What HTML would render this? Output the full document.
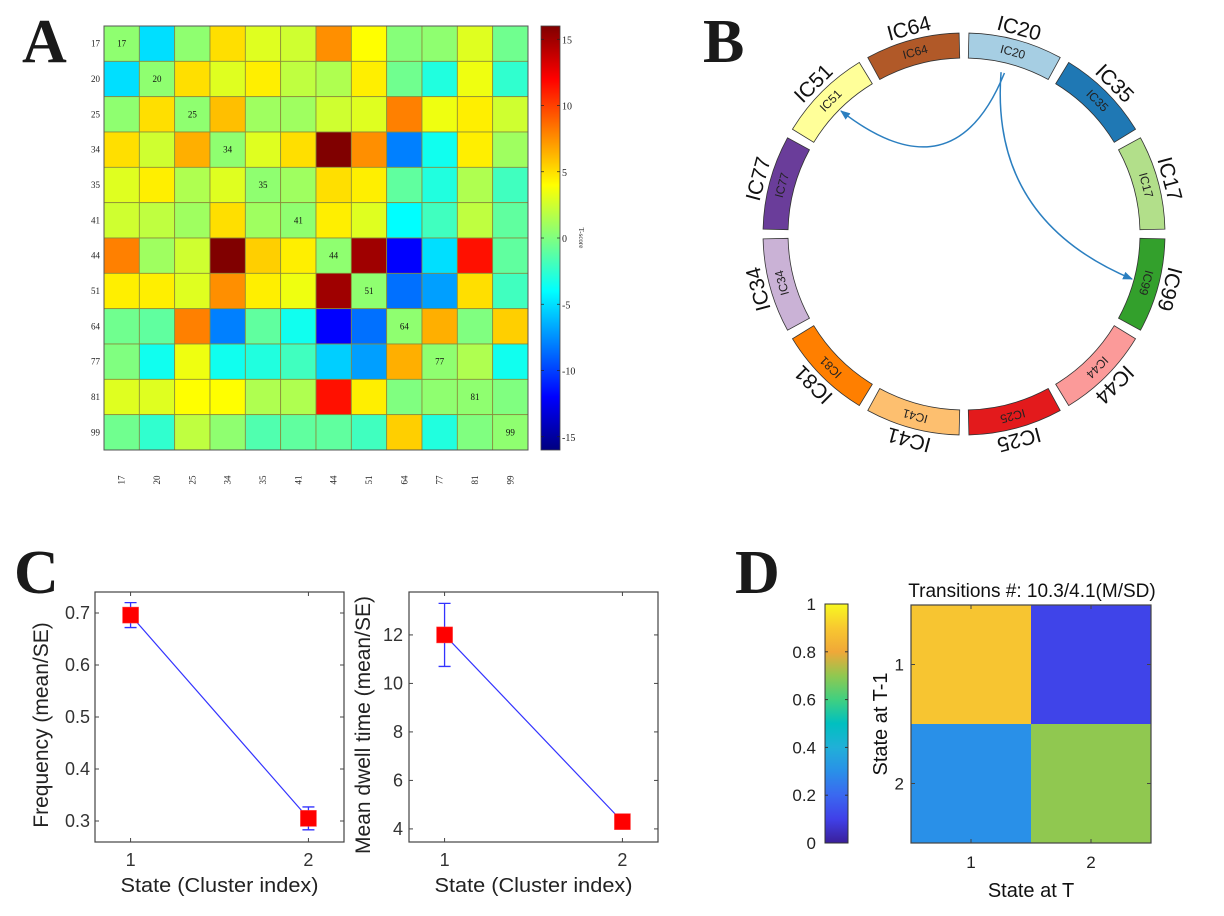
<!DOCTYPE html>
<html><head><meta charset="utf-8">
<style>
html,body{margin:0;padding:0;background:#fff;}
svg{display:block;}
text{font-family:"Liberation Sans",sans-serif;}
.serif{font-family:"Liberation Serif",serif;}
</style></head>
<body>
<svg id="fig" width="1224" height="916" viewBox="0 0 1224 916" xmlns="http://www.w3.org/2000/svg">
<rect width="1224" height="916" fill="#fff"/>
<text class="serif" x="22" y="62" font-size="62" font-weight="bold" fill="#1a1a1a">A</text>
<text class="serif" x="703" y="62" font-size="62" font-weight="bold" fill="#1a1a1a">B</text>
<text class="serif" x="14" y="593" font-size="62" font-weight="bold" fill="#1a1a1a">C</text>
<text class="serif" x="735" y="593" font-size="62" font-weight="bold" fill="#1a1a1a">D</text>
<g id="pa"></g>
<g id="pb"></g>
<g id="pc1"></g>
<g id="pc2"></g>
<g id="pd"></g>
</svg>
<script>
// ---------- Panel A data ----------
const icLabels = ["17","20","25","34","35","41","44","51","64","77","81","99"];
const row17 = [0.5,-5,0.5,5,3,2.5,7.5,4,0.2,0.5,3,-0.5];
const row20 = [-5,0.5,5,3,4.5,2,1.5,4.5,-0.5,-3,3.5,-2.5];
const row25 = [0.5,5,0.5,6,1,1,2.5,3,8,3.5,4.5,2.5];
const row34 = [5,2.5,6.5,0.5,3,5,16,7.5,-8,-3.5,4.5,1];
const row35 = [3,4.5,1.5,3,0.5,1,5,4.5,-1,-3,1.5,-2];
const row41 = [2.5,2,1,5,1,0.5,4.5,3,-4,-2,2,-1];
const row44 = [8,1,2.5,16,5.5,4.5,0.5,15,-12,-5,11.5,-1];
const row51 = [4.5,4.5,3,7.5,4.5,3.5,15,0.5,-8.5,-7,5,-2];
const row64 = [-0.5,-1,8,-8,-1,-3.5,-12,-8.5,0.5,6.5,0,5.5];
const row77 = [0,-3.5,3.5,-3.5,-3,-2,-5.5,-7,6.5,0.5,1.5,-3.5];
const row81 = [3,3,4,4,1.5,1.5,11.5,4.5,0,0.5,0.5,0];
const row99 = [-0.5,-2.5,2,0.5,-1.5,-1,-1,-2,5.5,-3,0,0.5];
const tRows = [row17,row20,row25,row34,row35,row41,row44,row51,row64,row77,row81,row99];
const cbTicks = [15,10,5,0,-5,-10,-15];

// ---------- Panel B data ----------
const chordNames = ["IC20","IC35","IC17","IC99","IC44","IC25","IC41","IC81","IC34","IC77","IC51","IC64"];
const chordColors = ["#a6cee3","#1f78b4","#b2df8a","#33a02c","#fb9a99","#e31a1c","#fdbf6f","#ff7f00","#cab2d6","#6a3d9a","#ffff99","#b15928"];
const linkSources = ["IC20","IC20"];
const linkTargets = ["IC51","IC99"];

// ---------- Panel C data ----------
const states = [1,2];
const freqMean = [0.696,0.305];
const freqSE = [0.024,0.022];
const freqTicks = [0.3,0.4,0.5,0.6,0.7];
const dwellMean = [12.0,4.3];
const dwellSE = [1.3,0.3];
const dwellTicks = [4,6,8,10,12];

// ---------- Panel D data ----------
const transRow1 = [0.89,0.11];
const transRow2 = [0.30,0.70];
const transRows = [transRow1,transRow2];
const parTicks = [0,0.2,0.4,0.6,0.8,1];

const NS="http://www.w3.org/2000/svg";
function mk(tag,attrs,parent,txt){const e=document.createElementNS(NS,tag);for(const k in attrs)e.setAttribute(k,attrs[k]);if(txt!==undefined)e.textContent=txt;parent.appendChild(e);return e;}

function jet(v){let t=(v+16)/32;t=Math.max(0,Math.min(1,t));
 const c=x=>Math.round(255*Math.max(0,Math.min(1,x)));
 const r=c(1.5-Math.abs(4*t-3)),g=c(1.5-Math.abs(4*t-2)),b=c(1.5-Math.abs(4*t-1));
 return `rgb(${r},${g},${b})`;}

// ---- Panel A ----
(function(){
 const g=document.getElementById('pa');
 const x0=104,y0=26,W=424,n=icLabels.length,cs=W/n;
 const xs=i=>x0+i*cs, ys=i=>y0+i*cs;
 tRows.forEach((row,i)=>row.forEach((v,j)=>{
  const r=mk('rect',{x:xs(j),y:ys(i),width:cs,height:cs,fill:jet(v),stroke:'#8a8a3a','stroke-width':0.8},g);
  
  
  if(i===j){const t=mk('text',{x:xs(j)+cs/2,y:ys(i)+cs/2+3,'font-size':9,'text-anchor':'middle',class:'serif',fill:'#111'},g,icLabels[i]);
   
   }
 }));
 mk('rect',{x:x0,y:y0,width:W,height:W,fill:'none',stroke:'#555','stroke-width':1},g);
 icLabels.forEach((l,i)=>{
  const t=mk('text',{x:100,y:ys(i)+cs/2+3,'font-size':9,'text-anchor':'end',class:'serif',fill:'#222'},g,l);
  
  
  const cx=xs(i)+cs/2;
  const t2=mk('text',{x:cx,y:480,'font-size':9,'text-anchor':'middle',class:'serif',fill:'#222',transform:`rotate(-90 ${cx} 480)`,dy:3},g,l);
  
  
 });
 const cbx=541,cbw=19,cby=26,cbh=424;
 const defs=mk('defs',{},g);
 const lg=mk('linearGradient',{id:'jetg',x1:0,y1:1,x2:0,y2:0},defs);
 for(let k=0;k<=32;k++){mk('stop',{offset:k/32,'stop-color':jet(-16+k)},lg);}
 const cb=mk('rect',{x:cbx,y:cby,width:cbw,height:cbh,fill:'url(#jetg)',stroke:'#444','stroke-width':0.8},g);
 
 
 const cy=v=>cby+cbh*(16-v)/32;
 cbTicks.forEach(v=>{
  mk('line',{x1:cbx,x2:cbx+3,y1:cy(v),y2:cy(v),stroke:'#222','stroke-width':0.7},g);
  mk('line',{x1:cbx+cbw-3,x2:cbx+cbw,y1:cy(v),y2:cy(v),stroke:'#222','stroke-width':0.7},g);
  const t=mk('text',{x:cbx+cbw+2,y:cy(v)+4,'font-size':10,class:'serif',fill:'#222'},g,String(v));
  
  
 });
 const tl=mk('text',{x:579,y:238,'font-size':7,'text-anchor':'middle',class:'serif',fill:'#333',transform:'rotate(90 579 238)'},g,'T-score');
 
 
})();

// ---- Panel B ----
(function(){
 const g=document.getElementById('pb');
 const cx=964,cy=234,rIn=176,rOut=201,n=chordNames.length,step=360/n,gap=1.4;
 const pt=(a,r)=>{const t=(a-90)*Math.PI/180;return [cx+r*Math.cos(t),cy+r*Math.sin(t)];};
 chordNames.forEach((nm,i)=>{
  const a0=i*step+gap,a1=(i+1)*step-gap,mid=i*step+step/2;
  const p1=pt(a0,rOut),p2=pt(a1,rOut),p3=pt(a1,rIn),p4=pt(a0,rIn);
  const d=`M${p1}A${rOut},${rOut} 0 0 1 ${p2}L${p3}A${rIn},${rIn} 0 0 0 ${p4}Z`;
  const s=mk('path',{d:d,fill:chordColors[i],stroke:'#333','stroke-width':0.8},g);
  
  
  const ti=mk('text',{x:cx,y:cy-(rIn+rOut)/2+4,'font-size':12,'text-anchor':'middle',fill:'#222',transform:`rotate(${mid} ${cx} ${cy})`},g,nm);
  
  
  const to=mk('text',{x:cx,y:cy-rOut-5,'font-size':21,'text-anchor':'middle',fill:'#111',transform:`rotate(${mid} ${cx} ${cy})`},g,nm);
  
  
 });
 const defs=mk('defs',{},g);
 const m=mk('marker',{id:'arr',viewBox:'0 0 10 10',refX:9,refY:5,markerWidth:10,markerHeight:10,orient:'auto',markerUnits:'userSpaceOnUse'},defs);
 mk('path',{d:'M0,1L10,5L0,9Z',fill:'#2b7fc0'},m);
 linkSources.forEach((src,k)=>{
  const si=chordNames.indexOf(src),ti=chordNames.indexOf(linkTargets[k]);
  const sa=si*step+step*(k===0?0.47:0.43), ta=ti*step+step/2;
  const s=pt(sa,rIn-10),t=pt(ta,rIn-2);
  const c=[(s[0]+t[0])/2*0.25+cx*0.75,(s[1]+t[1])/2*0.25+cy*0.75];
  const p=mk('path',{d:`M${s}Q${c} ${t}`,fill:'none',stroke:'#2b7fc0','stroke-width':1.5,'marker-end':'url(#arr)'},g);
  
  
 });
})();

// ---- Panel C ----
function lineChart(id,box,xlim,ylim,means,ses,ticks,fmt,ylab,ylabX,tickRight){
 const g=document.getElementById(id);
 const [L,T,R,B]=box;
 const xs=v=>L+(v-xlim[0])/(xlim[1]-xlim[0])*(R-L);
 const ys=v=>B-(v-ylim[0])/(ylim[1]-ylim[0])*(B-T);
 mk('rect',{x:L,y:T,width:R-L,height:B-T,fill:'#fff',stroke:'#444','stroke-width':1.2},g);
 ticks.forEach(v=>{
  mk('line',{x1:L,x2:L+4,y1:ys(v),y2:ys(v),stroke:'#444'},g);
  mk('line',{x1:R-4,x2:R,y1:ys(v),y2:ys(v),stroke:'#444'},g);
  const t=mk('text',{x:tickRight,y:ys(v)+6,'font-size':18,'text-anchor':'end',fill:'#333'},g,fmt(v));
  
  
 });
 states.forEach(s=>{
  mk('line',{x1:xs(s),x2:xs(s),y1:T,y2:T+4,stroke:'#444'},g);
  mk('line',{x1:xs(s),x2:xs(s),y1:B-4,y2:B,stroke:'#444'},g);
  const t=mk('text',{x:xs(s),y:866,'font-size':18,'text-anchor':'middle',fill:'#333'},g,String(s));
  
  
 });
 const pts=states.map((s,i)=>[xs(s),ys(means[i])]);
 const ln=mk('polyline',{points:pts.join(' '),fill:'none',stroke:'#3333ff','stroke-width':1.2},g);
 
 
 states.forEach((s,i)=>{
  const x=xs(s),hi=ys(means[i]+ses[i]),lo=ys(means[i]-ses[i]);
  const e=mk('path',{d:`M${x},${hi}V${lo}M${x-6},${hi}H${x+6}M${x-6},${lo}H${x+6}`,stroke:'#3333ff','stroke-width':1.3,fill:'none'},g);
  
  
  const r=mk('rect',{x:x-8,y:ys(means[i])-8,width:16,height:16,fill:'#ff0000',stroke:'#ff4040','stroke-width':0.5},g);
  
  
 });
 const xl=mk('text',{x:(L+R)/2,y:892,'font-size':20,'text-anchor':'middle',fill:'#222',textLength:198,lengthAdjust:'spacingAndGlyphs'},g,'State (Cluster index)');
 
 
 const yl=mk('text',{x:ylabX,y:(T+B)/2+8,'font-size':21,'text-anchor':'middle',fill:'#222',transform:`rotate(-90 ${ylabX} ${(T+B)/2+8})`},g,ylab);
 
 
}
lineChart('pc1',[95,592,344,842],[0.8,2.2],[0.2596,0.7404],freqMean,freqSE,freqTicks,v=>v.toFixed(1),'Frequency (mean/SE)',48,90);
lineChart('pc2',[409,592,658,842],[0.8,2.2],[3.46,13.77],dwellMean,dwellSE,dwellTicks,v=>String(v),'Mean dwell time (mean/SE)',370,403);

// ---- Panel D ----
const parStops=[[0,'#3a1f9a'],[0.1,'#4040e8'],[0.2,'#3a68f0'],[0.3,'#2990e8'],[0.4,'#20b0d8'],[0.5,'#00c0c0'],[0.6,'#40d080'],[0.7,'#90c850'],[0.8,'#f0a838'],[0.9,'#f8c830'],[1,'#f8f820']];
function parula(v){v=Math.max(0,Math.min(1,v));for(let i=1;i<parStops.length;i++){if(v<=parStops[i][0]){const [a,ca]=parStops[i-1],[b,cb]=parStops[i];const f=(v-a)/(b-a);const h=c=>[1,3,5].map(k=>parseInt(c.substr(k,2),16));const A=h(ca),Bc=h(cb);return `rgb(${A.map((x,k)=>Math.round(x+(Bc[k]-x)*f)).join(',')})`;}}return parStops[parStops.length-1][1];}
(function(){
 const g=document.getElementById('pd');
 const L=911,T=605,R=1151,B=843,n=2,cw=(R-L)/n,ch=(B-T)/n;
 transRows.forEach((row,i)=>row.forEach((v,j)=>{
  const r=mk('rect',{x:L+j*cw,y:T+i*ch,width:cw+0.5,height:ch+0.5,fill:parula(v)},g);
  
  
 }));
 mk('rect',{x:L,y:T,width:R-L,height:B-T,fill:'none',stroke:'#444','stroke-width':1.2},g);
 [1,2].forEach((s,i)=>{
  const x=L+cw*(i+0.5),y=T+ch*(i+0.5);
  mk('line',{x1:x,x2:x,y1:B-4,y2:B,stroke:'#444'},g);
  mk('line',{x1:x,x2:x,y1:T,y2:T+4,stroke:'#444'},g);
  mk('line',{x1:L,x2:L+4,y1:y,y2:y,stroke:'#444'},g);
  mk('line',{x1:R-4,x2:R,y1:y,y2:y,stroke:'#444'},g);
  const tx=mk('text',{x:x,y:868,'font-size':17,'text-anchor':'middle',fill:'#222'},g,String(s));
  
  
  const ty=mk('text',{x:904,y:y+6,'font-size':17,'text-anchor':'end',fill:'#222'},g,String(s));
  
  
 });
 const tt=mk('text',{x:1032,y:597,'font-size':19,'text-anchor':'middle',fill:'#111'},g,'Transitions #: 10.3/4.1(M/SD)');
 
 
 const xl=mk('text',{x:1031,y:897,'font-size':20,'text-anchor':'middle',fill:'#111'},g,'State at T');
 
 
 const yl=mk('text',{x:0,y:0,'font-size':20,'text-anchor':'middle',fill:'#111',transform:'translate(887 724) rotate(-90)'},g,'State at T-1');
 
 
 const cx=825,cw2=23,cT=604,cB=843;
 const defs=mk('defs',{},g);
 const lg=mk('linearGradient',{id:'parg',x1:0,y1:1,x2:0,y2:0},defs);
 for(let k=0;k<=20;k++)mk('stop',{offset:k/20,'stop-color':parula(k/20)},lg);
 const cb=mk('rect',{x:cx,y:cT,width:cw2,height:cB-cT,fill:'url(#parg)',stroke:'#333','stroke-width':1},g);
 
 
 parTicks.forEach(v=>{
  const y=cB-(cB-cT)*v;
  mk('line',{x1:cx,x2:cx+3,y1:y,y2:y,stroke:'#333'},g);
  mk('line',{x1:cx+cw2-3,x2:cx+cw2,y1:y,y2:y,stroke:'#333'},g);
  const t=mk('text',{x:816,y:y+6,'font-size':17,'text-anchor':'end',fill:'#222'},g,String(v));
  
  
 });
})();
</script>
</body></html>
